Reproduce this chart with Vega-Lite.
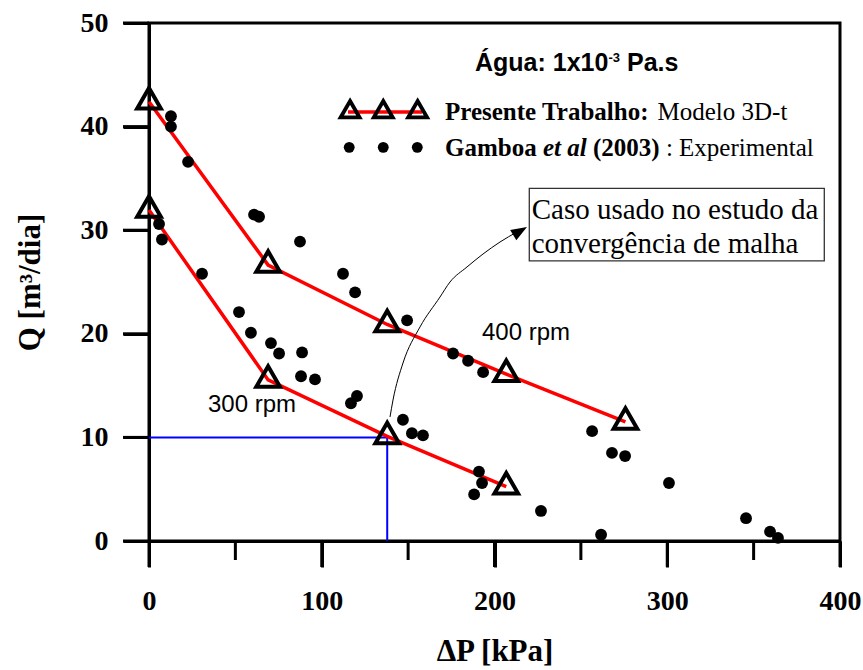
{
  "$schema": "https://vega.github.io/schema/vega-lite/v6.json",
  "width": 691,
  "height": 518,
  "autosize": {"type": "pad"},
  "padding": {"left": 14, "top": 9, "right": 0, "bottom": 0},
  "background": "white",
  "config": {
    "view": {"stroke": "black", "strokeWidth": 3}
  },
  "encoding": {
    "x": {
      "field": "x",
      "type": "quantitative",
      "scale": {"domain": [0, 400], "nice": false, "zero": false},
      "axis": {
        "title": "ΔP [kPa]",
        "values": [0, 100, 200, 300, 400],
        "grid": false,
        "domainColor": "#000000",
        "domainWidth": 3,
        "tickColor": "#000000",
        "tickWidth": 3,
        "tickSize": 26,
        "labelFont": "Liberation Serif",
        "labelFontWeight": "bold",
        "labelFontSize": 28,
        "labelColor": "black",
        "labelFlush": false,
        "labelPadding": 20,
        "titleFont": "Liberation Serif",
        "titleFontWeight": "bold",
        "titleFontSize": 31,
        "titleColor": "black",
        "titlePadding": 21
      }
    },
    "y": {
      "field": "y",
      "type": "quantitative",
      "scale": {"domain": [0, 50], "nice": false, "zero": false},
      "axis": {
        "title": "Q [m³/dia]",
        "values": [0, 10, 20, 30, 40, 50],
        "grid": false,
        "domainColor": "#000000",
        "domainWidth": 3,
        "tickColor": "#000000",
        "tickWidth": 3,
        "tickSize": 26,
        "labelFont": "Liberation Serif",
        "labelFontWeight": "bold",
        "labelFontSize": 28,
        "labelColor": "black",
        "labelFlush": false,
        "labelPadding": 15,
        "titleFont": "Liberation Serif",
        "titleFontWeight": "bold",
        "titleFontSize": 31,
        "titleColor": "black",
        "titlePadding": 34
      }
    }
  },
  "layer": [
    {
      "data": {"values": [
        {"x": 0, "y": 10, "o": 1},
        {"x": 137.9, "y": 10, "o": 2},
        {"x": 137.9, "y": 0, "o": 3}
      ]},
      "mark": {"type": "line", "color": "#0000ff", "strokeWidth": 2},
      "encoding": {"order": {"field": "o", "type": "quantitative"}}
    },
    {
      "data": {"values": [
        {"x": 50, "y": 0, "y2": -1.834},
        {"x": 150, "y": 0, "y2": -1.834},
        {"x": 250, "y": 0, "y2": -1.834},
        {"x": 350, "y": 0, "y2": -1.834},
        {"x": 0, "y": 0, "y2": -2.51},
        {"x": 100, "y": 0, "y2": -2.51},
        {"x": 200, "y": 0, "y2": -2.51},
        {"x": 300, "y": 0, "y2": -2.51},
        {"x": 400, "y": 0, "y2": -2.51}
      ]},
      "mark": {"type": "rule", "color": "#000000", "strokeWidth": 3},
      "encoding": {"y2": {"field": "y2"}}
    },
    {
      "data": {"values": [
        {"x": 0, "x2": -15.05, "y": 0},
        {"x": 0, "x2": -15.05, "y": 10},
        {"x": 0, "x2": -15.05, "y": 20},
        {"x": 0, "x2": -15.05, "y": 30},
        {"x": 0, "x2": -15.05, "y": 40},
        {"x": 0, "x2": -15.05, "y": 50}
      ]},
      "mark": {"type": "rule", "color": "#000000", "strokeWidth": 3},
      "encoding": {"x2": {"field": "x2"}}
    },
    {
      "data": {"values": [
        {"s": "400", "x": 0, "y": 42.4},
        {"s": "400", "x": 68.95, "y": 26.64},
        {"s": "400", "x": 137.9, "y": 20.9},
        {"s": "400", "x": 206.8, "y": 16.1},
        {"s": "400", "x": 275.8, "y": 11.5},
        {"s": "300", "x": 0, "y": 31.95},
        {"s": "300", "x": 68.95, "y": 15.55},
        {"s": "300", "x": 137.9, "y": 10.1},
        {"s": "300", "x": 206.8, "y": 5.25},
        {"s": "leg", "x": 115.2, "y": 41.41},
        {"s": "leg", "x": 158.1, "y": 41.41}
      ]},
      "mark": {"type": "line", "color": "#ff0000", "strokeWidth": 3.5},
      "encoding": {"detail": {"field": "s", "type": "nominal"}}
    },
    {
      "data": {"values": [
        {"x": 12.7, "y": 41.0}, {"x": 12.7, "y": 40.0}, {"x": 22.6, "y": 36.6},
        {"x": 5.8, "y": 30.6}, {"x": 7.5, "y": 29.1}, {"x": 30.7, "y": 25.8},
        {"x": 60.8, "y": 31.5}, {"x": 63.7, "y": 31.3}, {"x": 87.4, "y": 28.9},
        {"x": 112.3, "y": 25.8}, {"x": 119.3, "y": 24.0}, {"x": 52.1, "y": 22.1},
        {"x": 59.0, "y": 20.1}, {"x": 70.6, "y": 19.1}, {"x": 75.3, "y": 18.1},
        {"x": 88.6, "y": 18.2}, {"x": 88.0, "y": 15.9}, {"x": 96.1, "y": 15.6},
        {"x": 120.4, "y": 14.0}, {"x": 116.9, "y": 13.3}, {"x": 149.4, "y": 21.3},
        {"x": 176.0, "y": 18.1}, {"x": 184.7, "y": 17.4}, {"x": 193.4, "y": 16.3},
        {"x": 147.0, "y": 11.7}, {"x": 152.2, "y": 10.4}, {"x": 158.6, "y": 10.2},
        {"x": 191.0, "y": 6.7}, {"x": 192.8, "y": 5.6}, {"x": 188.2, "y": 4.5},
        {"x": 256.5, "y": 10.6}, {"x": 268.0, "y": 8.5}, {"x": 275.6, "y": 8.2},
        {"x": 226.9, "y": 2.9}, {"x": 301.0, "y": 5.6}, {"x": 261.7, "y": 0.6},
        {"x": 345.6, "y": 2.2}, {"x": 359.5, "y": 0.9}, {"x": 364.1, "y": 0.3}
      ]},
      "mark": {"type": "point", "shape": "circle", "filled": true, "color": "black", "opacity": 1, "size": 140}
    },
    {
      "data": {"values": [
        {"x": 115.9, "y": 38.0}, {"x": 135.6, "y": 38.0}, {"x": 155.3, "y": 38.0}
      ]},
      "mark": {"type": "point", "shape": "circle", "filled": true, "color": "black", "opacity": 1, "size": 118}
    },
    {
      "data": {"values": [
        {"x": 0, "y": 42.4}, {"x": 68.95, "y": 26.64}, {"x": 137.9, "y": 20.9},
        {"x": 206.8, "y": 16.1}, {"x": 275.8, "y": 11.5},
        {"x": 0, "y": 31.95}, {"x": 68.95, "y": 15.55}, {"x": 137.9, "y": 10.1},
        {"x": 206.8, "y": 5.25}
      ]},
      "mark": {"type": "point", "shape": "M0,-1.155L1,0.577L-1,0.577Z", "filled": false, "stroke": "black", "strokeWidth": 4, "strokeJoin": "miter", "opacity": 1, "size": 560}
    },
    {
      "data": {"values": [
        {"x": 116.4, "y": 41.41}, {"x": 135.6, "y": 41.41}, {"x": 155.5, "y": 41.41}
      ]},
      "mark": {"type": "point", "shape": "M0,-1.155L1,0.577L-1,0.577Z", "filled": false, "stroke": "black", "strokeWidth": 3.8, "strokeJoin": "miter", "opacity": 1, "size": 360}
    },
    {
      "data": {"values": [
        {"x": 220.14, "x2": 390.91, "y": 34.04, "y2": 27.03}
      ]},
      "mark": {"type": "rect", "fill": "white", "stroke": "#333333", "strokeWidth": 1.3},
      "encoding": {"x2": {"field": "x2"}, "y2": {"field": "y2"}}
    },
    {
      "data": {"values": [
        {"x": 221.54, "y": 31.95, "t": "Caso usado no estudo da"},
        {"x": 221.54, "y": 28.67, "t": "convergência de malha"}
      ]},
      "mark": {"type": "text", "font": "Liberation Serif", "fontSize": 29, "align": "left", "baseline": "middle", "color": "black"},
      "encoding": {"text": {"field": "t"}}
    },
    {
      "data": {"values": [
        {"x": 171.35, "y": 41.41, "t": "Presente Trabalho:"},
        {"x": 171.35, "y": 37.93, "t": "Gamboa"},
        {"x": 256.96, "y": 37.93, "t": "(2003)"}
      ]},
      "mark": {"type": "text", "font": "Liberation Serif", "fontWeight": "bold", "fontSize": 25, "align": "left", "baseline": "middle", "color": "black"},
      "encoding": {"text": {"field": "t"}}
    },
    {
      "data": {"values": [
        {"x": 228.02, "y": 37.93, "t": "et al"}
      ]},
      "mark": {"type": "text", "font": "Liberation Serif", "fontWeight": "bold", "fontStyle": "italic", "fontSize": 25, "align": "left", "baseline": "middle", "color": "black"},
      "encoding": {"text": {"field": "t"}}
    },
    {
      "data": {"values": [
        {"x": 294.36, "y": 41.41, "t": "Modelo 3D-t"},
        {"x": 299.22, "y": 37.93, "t": ": Experimental"}
      ]},
      "mark": {"type": "text", "font": "Liberation Serif", "fontSize": 25, "align": "left", "baseline": "middle", "color": "black"},
      "encoding": {"text": {"field": "t"}}
    },
    {
      "data": {"values": [
        {"x": 188.71, "y": 46.14, "t": "Água: 1x10"},
        {"x": 276.7, "y": 46.14, "t": "Pa.s"}
      ]},
      "mark": {"type": "text", "font": "Liberation Sans", "fontWeight": "bold", "fontSize": 25, "align": "left", "baseline": "middle", "color": "black"},
      "encoding": {"text": {"field": "t"}}
    },
    {
      "data": {"values": [
        {"x": 265.93, "y": 46.62, "t": "-3"}
      ]},
      "mark": {"type": "text", "font": "Liberation Sans", "fontWeight": "bold", "fontSize": 13, "align": "left", "baseline": "middle", "color": "black"},
      "encoding": {"text": {"field": "t"}}
    },
    {
      "data": {"values": [
        {"x": 34.15, "y": 13.13, "t": "300 rpm"},
        {"x": 192.77, "y": 20.08, "t": "400 rpm"}
      ]},
      "mark": {"type": "text", "font": "Liberation Sans", "fontSize": 24, "align": "left", "baseline": "middle", "color": "black"},
      "encoding": {"text": {"field": "t"}}
    },
    {
      "data": {"values": [
        {"x": 139.51, "y": 11.97},
        {"x": 141.25, "y": 13.61},
        {"x": 147.03, "y": 17.18},
        {"x": 156.87, "y": 20.66},
        {"x": 168.45, "y": 23.55},
        {"x": 174.24, "y": 25.0},
        {"x": 184.08, "y": 26.45},
        {"x": 193.34, "y": 27.7},
        {"x": 203.18, "y": 28.86},
        {"x": 213.02, "y": 29.83}
      ]},
      "mark": {"type": "line", "color": "black", "strokeWidth": 1, "interpolate": "monotone"}
    },
    {
      "data": {"values": [
        {"x": 213.83, "y": 29.82}
      ]},
      "mark": {"type": "point", "shape": "M0,-1.25L0.75,0.75L-0.75,0.75Z", "filled": true, "color": "black", "opacity": 1, "size": 256, "angle": 59}
    }
  ]
}
